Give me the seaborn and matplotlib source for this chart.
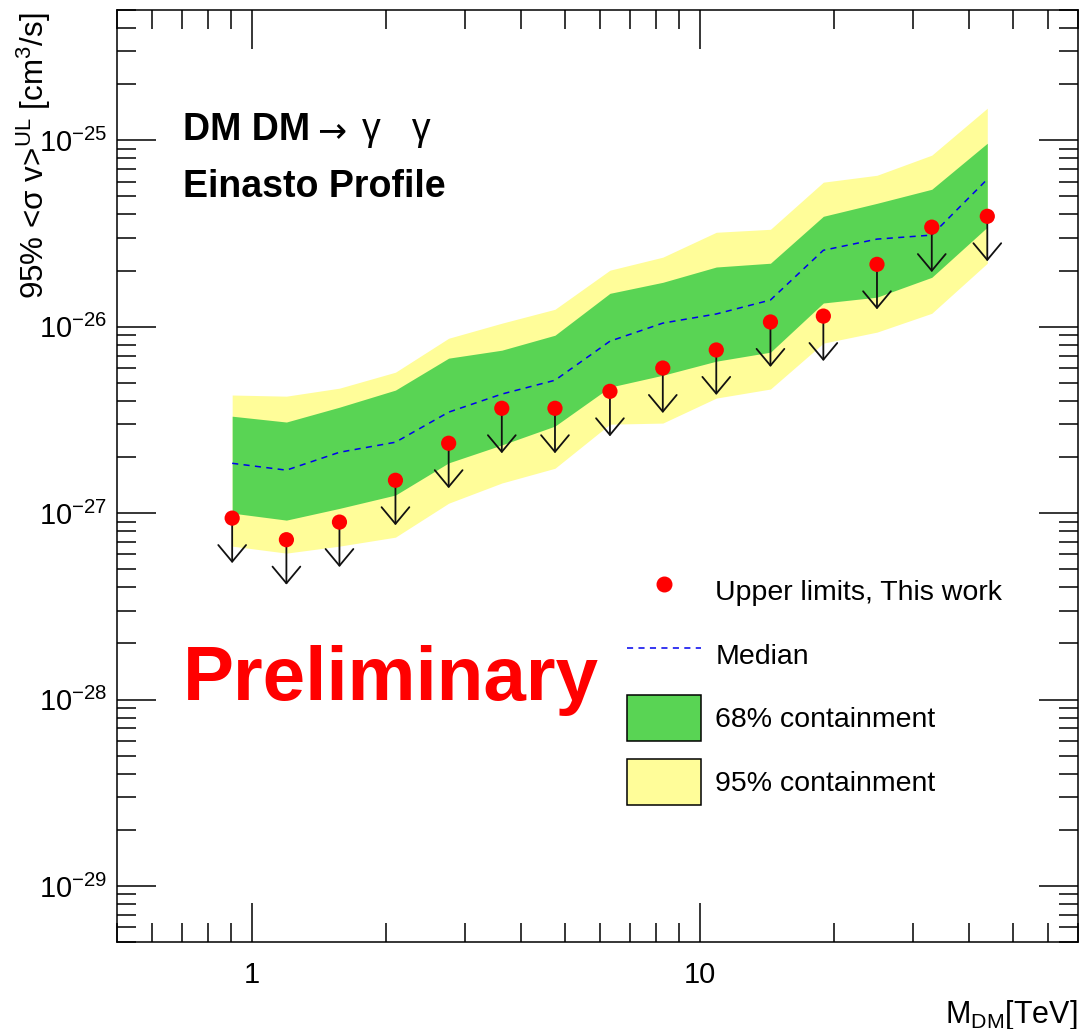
import numpy as np
import matplotlib
matplotlib.use("Agg")
import matplotlib.pyplot as plt
import matplotlib.ticker as mticker
from matplotlib.lines import Line2D
from matplotlib.patches import Patch
import seaborn as sns
import pandas as pd

# ---------------- data ----------------
mass_tev = [0.905, 1.196, 1.571, 2.095, 2.754, 3.619, 4.757, 6.31, 8.28, 10.9, 14.4, 18.9, 24.9, 33.0, 43.9]
upper_limits = [9.4e-28, 7.2e-28, 8.95e-28, 1.50e-27, 2.37e-27, 3.65e-27, 3.65e-27, 4.5e-27,
                6.0e-27, 7.5e-27, 1.06e-26, 1.14e-26, 2.16e-26, 3.42e-26, 3.91e-26]
median = [1.85e-27, 1.70e-27, 2.12e-27, 2.40e-27, 3.48e-27, 4.35e-27, 5.16e-27, 8.36e-27,
          1.045e-26, 1.17e-26, 1.39e-26, 2.57e-26, 2.95e-26, 3.10e-26, 6.18e-26]
band68_low = [1.00e-27, 9.17e-28, 1.06e-27, 1.25e-27, 1.86e-27, 2.32e-27, 2.93e-27, 4.74e-27,
              5.49e-27, 6.53e-27, 7.30e-27, 1.34e-26, 1.44e-26, 1.84e-26, 3.42e-26]
band68_high = [3.31e-27, 3.08e-27, 3.70e-27, 4.57e-27, 6.78e-27, 7.48e-27, 9.00e-27, 1.51e-26,
               1.73e-26, 2.09e-26, 2.19e-26, 3.91e-26, 4.59e-26, 5.46e-26, 9.64e-26]
band95_low = [6.65e-28, 6.10e-28, 6.65e-28, 7.43e-28, 1.13e-27, 1.45e-27, 1.74e-27, 3.00e-27,
              3.04e-27, 4.14e-27, 4.63e-27, 8.16e-27, 9.35e-27, 1.18e-26, 2.19e-26]
band95_high = [4.30e-27, 4.24e-27, 4.68e-27, 5.70e-27, 8.67e-27, 1.044e-26, 1.24e-26, 2.01e-26,
               2.36e-26, 3.21e-26, 3.33e-26, 5.96e-26, 6.49e-26, 8.32e-26, 1.486e-25]

xtick_values = [1, 10]
xtick_labels = ["1", "10"]
legend_labels = ["Upper limits, This work", "Median", "68% containment", "95% containment"]

df = pd.DataFrame({"mass": mass_tev, "ul": upper_limits, "median": median})

# ---------------- style ----------------
sns.set_theme(style="ticks")
plt.rcParams["font.family"] = ["Liberation Sans", "DejaVu Sans"]
plt.rcParams["mathtext.fontset"] = "custom"
plt.rcParams["mathtext.rm"] = "Liberation Sans"
plt.rcParams["mathtext.it"] = "Liberation Sans:italic"
plt.rcParams["mathtext.bf"] = "Liberation Sans:bold"
for key in ["text.color", "axes.labelcolor", "xtick.color", "ytick.color", "axes.edgecolor"]:
    plt.rcParams[key] = "black"

GREEN = "#59d454"
YELLOW = "#fffd99"

fig = plt.figure(figsize=(10.85, 10.29), dpi=100)
ax = fig.add_axes([0.1076, 0.0845, 0.8860, 0.9058])
ax.set_xscale("log")
ax.set_yscale("log")

ax.fill_between(mass_tev, band95_low, band95_high, color=YELLOW, lw=0, zorder=1)
ax.fill_between(mass_tev, band68_low, band68_high, color=GREEN, lw=0, zorder=2)

sns.lineplot(data=df, x="mass", y="median", ax=ax, color="#0000ee", lw=1.1,
             zorder=3, legend=False)
ax.lines[-1].set_dashes((4, 3.5))

# arrows (upper-limit markers)
arrow_factor = 10 ** (-0.2413)
for m, u in zip(mass_tev, upper_limits):
    ax.annotate("", xy=(m, u * arrow_factor), xytext=(m, u),
                arrowprops=dict(arrowstyle="->,head_length=0.6,head_width=0.5",
                                color="#111111", lw=1.3, shrinkA=0, shrinkB=0,
                                mutation_scale=20),
                zorder=4)

sns.scatterplot(data=df, x="mass", y="ul", ax=ax, color="#ff0000", s=120,
                edgecolor="none", zorder=5, legend=False)

ax.set_xlim(0.5, 70)
ax.set_ylim(5e-30, 5e-25)

ax.xaxis.set_major_locator(mticker.FixedLocator(xtick_values))
ax.xaxis.set_major_formatter(mticker.FixedFormatter(xtick_labels))
ax.xaxis.set_minor_locator(mticker.LogLocator(base=10, subs=np.arange(2, 10), numticks=20))
ax.xaxis.set_minor_formatter(mticker.NullFormatter())
ax.yaxis.set_major_locator(mticker.LogLocator(base=10, numticks=20))
ax.yaxis.set_minor_locator(mticker.LogLocator(base=10, subs=np.arange(2, 10), numticks=20))
ax.yaxis.set_minor_formatter(mticker.NullFormatter())

ax.tick_params(which="both", direction="in", top=True, right=True, width=1.1, colors="black")
ax.tick_params(which="major", length=28)
ax.tick_params(which="minor", length=14)
ax.tick_params(axis="x", which="major", labelsize=21, pad=14)
ax.tick_params(axis="y", which="major", labelsize=21, pad=7)
for s in ax.spines.values():
    s.set_linewidth(1.1)
    s.set_color("black")

ax.set_xlabel("")
ax.set_ylabel("")
fig.text(1078 / 1085, 1 - 998 / 1029, r"M$_{\mathrm{DM}}$[TeV]", ha="right", va="top", fontsize=22)
fig.text(33.5 / 1085, 1 - 12 / 1029, r"95% <σ v>$^{\mathrm{UL}}$ [cm$^{3}$/s]",
         rotation=90, ha="center", va="top", fontsize=22.6)

t1 = ax.text(0.069, 0.8605, "DM DM", transform=ax.transAxes, fontsize=27,
             fontweight="bold", va="baseline", ha="left")
t2 = ax.annotate("→", xy=(1, 0), xycoords=t1, xytext=(5, 0), textcoords="offset points",
                 fontsize=25, va="bottom", ha="left", family=["DejaVu Sans"])
ax.annotate("γ   γ", xy=(1, 0), xycoords=t2, xytext=(11, 0), textcoords="offset points",
            fontsize=27, va="bottom", ha="left")
ax.text(0.069, 0.799, "Einasto Profile", transform=ax.transAxes, fontsize=27,
        fontweight="bold", va="baseline", ha="left")
ax.text(0.069, 0.2597, "Preliminary", transform=ax.transAxes, fontsize=55,
        fontweight="bold", color="#ff0000", va="baseline", ha="left")

handles = [
    Line2D([], [], marker="o", color="#ff0000", ls="none", markersize=10.5),
    Line2D([], [], color="#0000ee", lw=1.1, dashes=(4, 3.5)),
    Patch(facecolor=GREEN, edgecolor="black", lw=1.1),
    Patch(facecolor=YELLOW, edgecolor="black", lw=1.1),
]
ax.legend(handles, legend_labels, loc="upper left", bbox_to_anchor=(0.531, 0.401),
          frameon=False, fontsize=20.5, handlelength=2.6, handleheight=2.1,
          handletextpad=0.49, labelspacing=0.62, borderpad=0, borderaxespad=0)

fig.savefig("out.png", dpi=100)
